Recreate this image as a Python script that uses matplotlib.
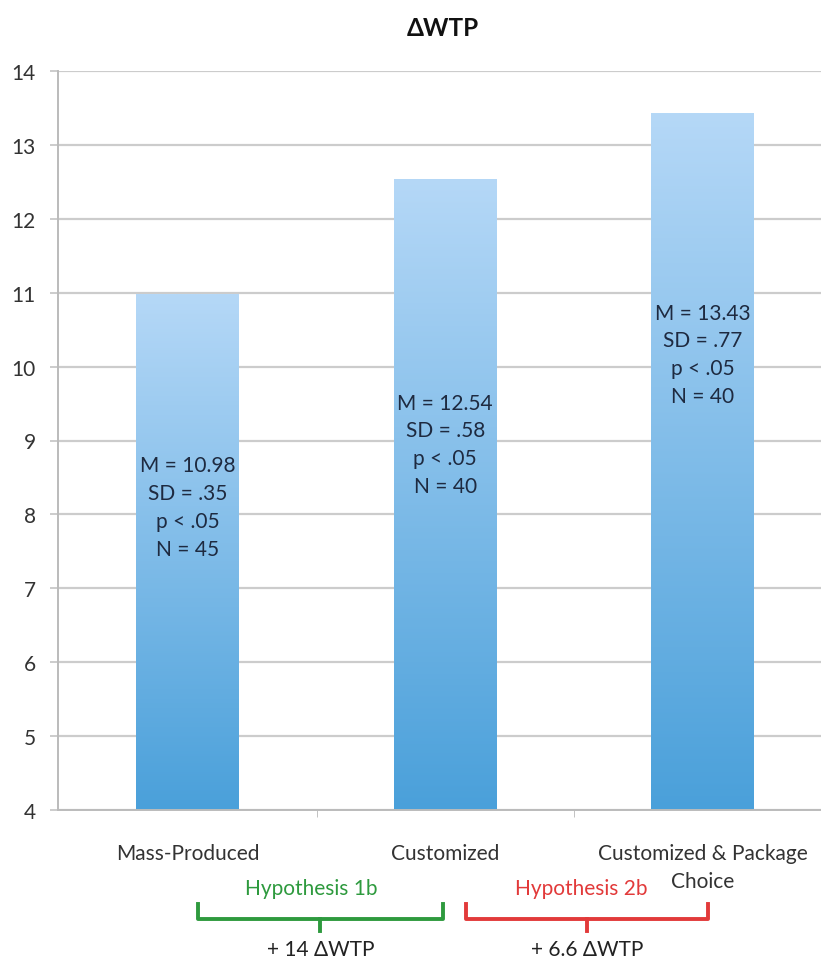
import numpy as np
import matplotlib
matplotlib.use('Agg')
import matplotlib.pyplot as plt
from matplotlib.colors import LinearSegmentedColormap

plt.rcParams['font.family'] = ['Lato', 'DejaVu Sans']

# data
categories = ['Mass-Produced', 'Customized', 'Customized & Package\nChoice']
means = [10.98, 12.54, 13.43]
sds = ['.35', '.58', '.77']
pvals = ['.05', '.05', '.05']
ns = [45, 40, 40]
label_y = [8.1, 8.95, 10.17]
hyp_names = ['Hypothesis 1b', 'Hypothesis 2b']
hyp_deltas = ['+ 14 ΔWTP', '+ 6.6 ΔWTP']
hyp_span = [(0.04, 0.99), (1.08, 2.02)]
hyp_text_x = [0.48, 1.53]
hyp_colors = ['#2e9a3e', '#e23a3a']

FS = 15

fig = plt.figure(figsize=(8.21, 9.62), dpi=100)
ax = fig.add_axes([58/821, 151/962, 1 - 58/821, (811-72)/962])

x = np.arange(len(categories))
bars = ax.bar(x, np.array(means) - 4, bottom=4, width=0.4, color='none', zorder=2)

cmap = LinearSegmentedColormap.from_list('blu', ['#4aa0da', '#b5d8f7'])
grad = np.linspace(0, 1, 256).reshape(-1, 1)
for b in bars:
    x0, y0 = b.get_x(), b.get_y()
    im = ax.imshow(grad, cmap=cmap, origin='lower', aspect='auto',
                   extent=[x0, x0 + b.get_width(), y0, y0 + b.get_height()], zorder=2)
    im.set_clip_path(b)

for i in range(len(categories)):
    txt = f'M = {means[i]:.2f}\nSD = {sds[i]}\np < {pvals[i]}\nN = {ns[i]}'
    ax.text(x[i], label_y[i], txt, ha='center', va='center', fontsize=FS,
            color='#1e2a40', linespacing=1.48, zorder=3)

# x range chosen so the bars sit where the original ones are
ax.set_xlim(-0.505, 2.46)
ax.set_ylim(4, 14)
ax.set_yticks(range(4, 15))
ax.yaxis.grid(True, color='#cccccc', linewidth=1.6, zorder=0)
ax.set_axisbelow(True)
ax.set_xticks(x)
ax.set_xticklabels([c.split('\n')[0] for c in categories], fontsize=FS, color='#333333')
ax.tick_params(axis='x', length=0, pad=24)
# second lines of wrapped category names
for i, c in enumerate(categories):
    rest = c.split('\n')[1:]
    if rest:
        ax.text(x[i], 3.04, '\n'.join(rest), ha='center', va='center', fontsize=FS,
                color='#333333')
ax.set_xticks([0.5, 1.5], minor=True)
ax.tick_params(axis='x', which='minor', length=5, color='#b8b8b8')
ax.tick_params(axis='y', length=6, width=1.4, color='#cccccc', labelsize=FS,
               labelcolor='#333333', pad=10)
for s in ['top', 'right']:
    ax.spines[s].set_visible(False)
for s in ['left', 'bottom']:
    ax.spines[s].set_color('#bbbbbb')
    ax.spines[s].set_linewidth(1.4)

fig.text(443/821, 1 - 29/962, 'ΔWTP', ha='center', va='center', fontsize=17.5,
         fontweight='bold', color='#111111')

# brackets
for (a, b), tx, name, delta, c in zip(hyp_span, hyp_text_x, hyp_names, hyp_deltas, hyp_colors):
    mid = (a + b) / 2
    ax.plot([a, a, b, b], [2.73, 2.53, 2.53, 2.73], color=c, lw=2.8, clip_on=False,
            solid_joinstyle='round')
    ax.plot([mid, mid], [2.53, 2.36], color=c, lw=2.8, clip_on=False)
    ax.text(tx, 2.95, name, ha='center', va='center', fontsize=FS, color=c)
    ax.text(mid, 2.12, delta, ha='center', va='center', fontsize=FS, color='#222222')

fig.savefig('out.png', dpi=100)
